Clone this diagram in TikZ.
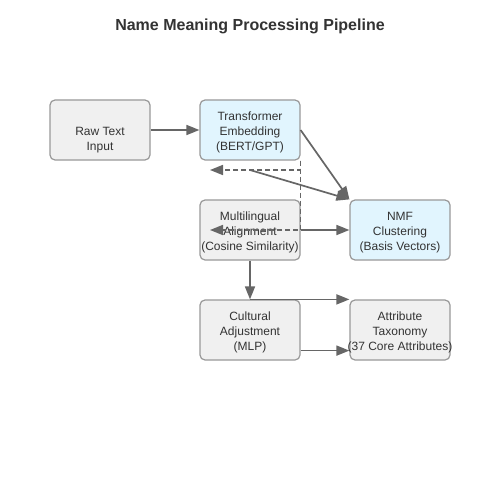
\documentclass[tikz,border=0pt]{standalone}
\usepackage{fontspec}
\setmainfont{Liberation Sans}
\usetikzlibrary{arrows.meta}
\definecolor{edgecol}{HTML}{666666}
\definecolor{boxline}{HTML}{999999}
\definecolor{txt}{HTML}{333333}
\definecolor{greyfill}{HTML}{F0F0F0}
\definecolor{bluefill}{HTML}{E1F5FE}
\begin{document}
\begin{tikzpicture}[x=1pt,y=-1pt,
  box/.style={draw=boxline, line width=1.2pt, rounded corners=5pt,
    minimum width=100pt, minimum height=60pt, inner sep=0pt},
  lbl/.style={align=center, text=txt, font=\fontsize{12}{15}\selectfont, inner sep=0pt, yshift=-2.5pt},
  greybox/.style={box, fill=greyfill},
  bluebox/.style={box, fill=bluefill},
  conn/.style={draw=edgecol, line width=1.7pt,
    -{Triangle[length=13pt,width=10pt]}},
  dconn/.style={conn, dash pattern=on 5pt off 3pt}]
\useasboundingbox (0,0) rectangle (500,500);
\fill[white] (0,0) rectangle (500,500);
\node[font=\bfseries\fontsize{16}{19}\selectfont, text=txt] (title) at (250,26) {Name Meaning Processing Pipeline};
\node[greybox, label={[lbl]center:{\phantom{R}\\Raw Text\\Input}}] (raw) at (100,130) {};
\node[bluebox, label={[lbl]center:{Transformer\\Embedding\\(BERT/GPT)}}] (trans) at (250,130) {};
\node[greybox, label={[lbl]center:{Multilingual\\Alignment\\\makebox[80pt]{(Cosine Similarity)}}}] (multi) at (250,230) {};
\node[bluebox, label={[lbl]center:{NMF\\Clustering\\(Basis Vectors)}}] (nmf) at (400,230) {};
\node[greybox, label={[lbl]center:{Cultural\\Adjustment\\(MLP)}}] (cult) at (250,330) {};
\node[greybox, label={[lbl]center:{Attribute\\Taxonomy\\\makebox[80pt]{(37 Core Attributes)}}}] (attr) at (400,330) {};
\coordinate (fb) at (250,170);
\coordinate (dl1) at (210,170);
\coordinate (dl2) at (210,230);
\draw[conn] (raw.east) -- (trans.west);
\draw[conn] (trans.east) -- (nmf.north west);
\draw[conn] (fb) -- (nmf.north west);
\draw[dconn] (trans.south east) |- (dl1);
\draw[dconn] (trans.south east) -- (multi.east) -- (dl2);
\draw[conn] (multi.east) -- (nmf.west);
\draw[conn] (multi.south) -- (cult.north);
\draw[conn] (cult.north) -- (attr.north west);
\draw[conn] ([yshift=10pt]cult.south east) -- ([yshift=10pt]attr.south west);
\end{tikzpicture}
\end{document}
